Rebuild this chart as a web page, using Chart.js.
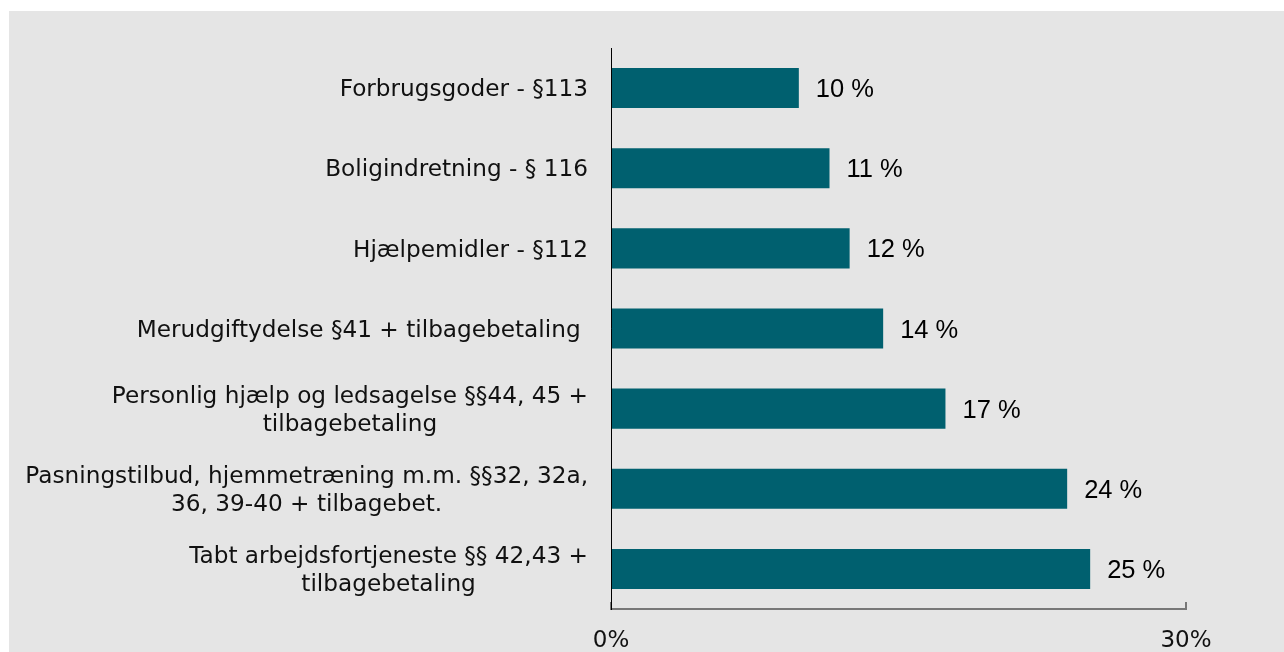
<!DOCTYPE html>
<html>
<head>
<meta charset="utf-8">
<script src="https://cdn.jsdelivr.net/npm/chart.js@4/dist/chart.umd.min.js"></script>
<style>
  html, body { margin: 0; padding: 0; background: #ffffff; }
  #wrap { position: absolute; left: 9px; top: 11px; width: 1275px; height: 641px; background: #e5e5e5; }
  canvas { display: block; }
</style>
</head>
<body>
<div id="wrap"><canvas id="c"></canvas></div>
<script>
const categories = [
  ["Forbrugsgoder - §113"],
  ["Boligindretning - § 116"],
  ["Hjælpemidler - §112"],
  ["Merudgiftydelse §41 + tilbagebetaling "],
  ["Personlig hjælp og ledsagelse §§44, 45 +", "tilbagebetaling"],
  ["Pasningstilbud, hjemmetræning m.m. §§32, 32a,", "36, 39-40 + tilbagebet."],
  ["Tabt arbejdsfortjeneste §§ 42,43 +", "tilbagebetaling"]
];
const shares = [9.8, 11.4, 12.45, 14.2, 17.45, 23.8, 25.0];
const xTicks = [0, 30];

const BAR = '#00606f';

const catLabels = {
  id: 'catLabels',
  afterDraw(chart) {
    const ctx = chart.ctx;
    const y = chart.scales.y;
    const right = chart.chartArea.left - 23;
    const size = 23.2;
    const lh = 27.5;
    ctx.save();
    ctx.font = size + 'px "DejaVu Sans"';
    ctx.fillStyle = '#111111';
    ctx.textAlign = 'center';
    ctx.textBaseline = 'alphabetic';
    categories.forEach((lines, i) => {
      const cy = y.getPixelForValue(i);
      const maxW = Math.max(...lines.map(l => ctx.measureText(l).width));
      const cx = right - maxW / 2;
      const top = cy - (lines.length - 1) * lh / 2;
      lines.forEach((l, j) => {
        ctx.fillText(l, cx, top + j * lh + 16.5 / 2);
      });
    });
    ctx.restore();
  }
};

const valueLabels = {
  id: 'valueLabels',
  afterDatasetsDraw(chart) {
    const ctx = chart.ctx;
    const meta = chart.getDatasetMeta(0);
    const size = 25.5;
    ctx.save();
    ctx.font = size + 'px "Liberation Sans"';
    ctx.fillStyle = '#000000';
    ctx.textAlign = 'left';
    ctx.textBaseline = 'alphabetic';
    meta.data.forEach((bar, i) => {
      ctx.fillText(Math.round(shares[i]) + ' %', bar.x + 17, bar.y + size * 0.716 / 2);
    });
    ctx.restore();
  }
};

const innerTicks = {
  id: 'innerTicks',
  afterDraw(chart) {
    const ctx = chart.ctx;
    const x = chart.scales.x;
    const b = chart.chartArea.bottom;
    ctx.save();
    ctx.strokeStyle = '#777777';
    ctx.lineWidth = 2;
    xTicks.forEach(v => {
      const px = Math.round(x.getPixelForValue(v));
      ctx.beginPath();
      ctx.moveTo(px, b - 7);
      ctx.lineTo(px, b);
      ctx.stroke();
    });
    ctx.strokeStyle = '#000000';
    ctx.lineWidth = 1;
    const lx = Math.round(chart.chartArea.left) + 0.5;
    ctx.beginPath();
    ctx.moveTo(lx, chart.chartArea.top);
    ctx.lineTo(lx, b);
    ctx.stroke();
    ctx.restore();
  }
};

new Chart(document.getElementById('c'), {
  type: 'bar',
  data: {
    labels: categories.map(c => c.join(' ')),
    datasets: [{
      data: shares,
      backgroundColor: BAR,
      borderWidth: 0,
      barPercentage: 0.5,
      categoryPercentage: 1.0
    }]
  },
  options: {
    indexAxis: 'y',
    responsive: true,
    maintainAspectRatio: false,
    animation: false,
    layout: { padding: { left: 602, top: 37, right: 98, bottom: 0 } },
    plugins: { legend: { display: false }, tooltip: { enabled: false } },
    scales: {
      x: {
        min: 0, max: 30,
        afterBuildTicks(scale) { scale.ticks = xTicks.map(v => ({ value: v })); },
        afterFit(scale) { scale.height = 43; },
        grid: { display: false, drawTicks: false },
        border: { display: true, color: '#777777', width: 2 },
        ticks: {
          padding: 18,
          color: '#111111',
          font: { family: 'DejaVu Sans', size: 23 },
          callback: v => v + '%',
          maxRotation: 0
        }
      },
      y: {
        afterFit(scale) { scale.width = 0; },
        grid: { display: false, drawTicks: false },
        border: { display: true, color: '#000000', width: 1 },
        ticks: { display: false }
      }
    }
  },
  plugins: [catLabels, valueLabels, innerTicks]
});
</script>
</body>
</html>
